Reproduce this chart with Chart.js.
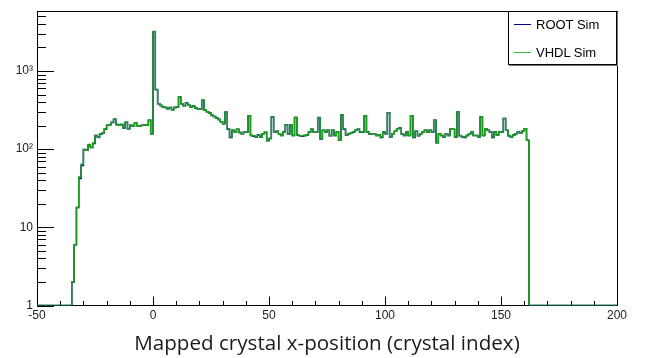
<!DOCTYPE html>
<html>
<head>
<meta charset="utf-8">
<script src="https://cdn.jsdelivr.net/npm/chart.js@4.4.1/dist/chart.umd.min.js"></script>
<style>
  body { margin: 0; background: #fff; }
  #wrap { position: relative; width: 645px; height: 358px; }
  #legend {
    position: absolute; left: 508px; top: 11px; width: 109px; height: 54px;
    box-sizing: border-box; border: 1px solid #000; box-shadow: 1px 1px 0 #777;
    background: #fff; font-family: "Liberation Sans", Arial, sans-serif; font-size: 13px; color: #000;
  }
  #legend .txt { position: absolute; left: 27px; height: 16px; line-height: 16px; white-space: nowrap; }
  #legend .ln { position: absolute; left: 5px; width: 17px; height: 0; border-top: 1px solid; }
</style>
</head>
<body>
<div id="wrap">
  <canvas id="c" width="645" height="358"></canvas>
  <div id="legend">
    <div class="ln" style="top:12px;border-color:#000099"></div>
    <div class="txt" style="top:5px">ROOT Sim</div>
    <div class="ln" style="top:40px;border-color:#33bb33"></div>
    <div class="txt" style="top:33px">VHDL Sim</div>
  </div>
</div>
<script>
// histogram: 1-unit bins, first bin starts at -35
var firstBin = -35;
var xMin = -50, xMax = 200;
var yMin = 1, yMax = 5820;
var yTicks = [1, 10, 100, 1000];
var yTickLabels = ["1", "10", "10\u00B2", "10\u00B3"];
var xTitle = "Mapped crystal x-position (crystal index)";

var rootSim = [
  2, 6, 18, 42, 62, 98, 97, 112, 105, 118,
  150, 143, 155, 160, 180, 202, 205, 220, 241, 207,
  202, 207, 187, 220, 183, 202, 196, 218, 200, 196,
  202, 205, 202, 234, 158,
  3180, 580, 382, 361, 345, 340, 330, 340, 320, 340,
  347, 465, 382, 360, 390, 364, 347, 357, 336, 330,
  325, 421, 314, 300, 290, 272, 262, 250, 240, 225,
  212, 297, 180, 141, 175, 166, 180, 163, 158, 166,
  166, 267, 150, 146, 143, 152, 143, 158, 163, 128,
  137, 258, 166, 169, 158, 150, 166, 206, 156, 206,
  150, 255, 152, 148, 146, 150, 152, 166, 180, 166,
  166, 253, 135, 175, 166, 175, 148, 175, 150, 166,
  130, 275, 180, 152, 158, 162, 166, 175, 180, 166,
  166, 265, 166, 156, 158, 158, 150, 152, 141, 166,
  158, 292, 143, 158, 169, 183, 187, 156, 150, 166,
  150, 268, 141, 169, 148, 158, 166, 175, 166, 175,
  166, 234, 121, 156, 150, 143, 158, 150, 183, 180,
  143, 299, 148, 143, 141, 150, 158, 166, 150, 150,
  143, 258, 150, 183, 175, 166, 141, 166, 152, 166,
  166, 246, 175, 148, 143, 152, 158, 166, 160, 170,
  183, 130
];

var vhdlSim = [
  2, 6, 18, 44, 64, 100, 97, 115, 105, 120,
  150, 141, 158, 160, 183, 202, 207, 222, 241, 207,
  202, 207, 187, 222, 183, 202, 196, 218, 200, 196,
  202, 205, 202, 234, 158,
  3200, 577, 382, 361, 345, 340, 330, 340, 320, 340,
  347, 465, 382, 360, 390, 364, 347, 357, 336, 330,
  325, 421, 314, 300, 290, 270, 262, 250, 240, 225,
  212, 299, 183, 143, 175, 166, 180, 163, 158, 166,
  166, 267, 150, 148, 143, 152, 143, 158, 166, 130,
  137, 258, 166, 169, 158, 150, 166, 206, 158, 206,
  150, 255, 152, 148, 148, 150, 152, 166, 180, 166,
  166, 255, 137, 175, 166, 175, 150, 175, 150, 166,
  130, 275, 183, 152, 158, 162, 166, 175, 180, 166,
  166, 265, 166, 158, 158, 158, 150, 152, 143, 166,
  158, 292, 143, 158, 169, 183, 187, 158, 150, 166,
  150, 268, 143, 169, 150, 158, 166, 175, 166, 175,
  166, 234, 121, 158, 150, 143, 158, 150, 183, 180,
  143, 299, 150, 143, 143, 150, 158, 166, 150, 150,
  143, 258, 150, 183, 175, 166, 143, 166, 152, 166,
  166, 246, 175, 150, 143, 152, 158, 166, 160, 170,
  183, 130
];

// empty bins sit on the axis floor
function histPoints(counts) {
  var pts = [{x: xMin, y: yMin}];
  counts.forEach(function (c, i) {
    pts.push({x: firstBin + i, y: c});
  });
  pts.push({x: firstBin + counts.length, y: yMin});
  pts.push({x: xMax, y: yMin});
  return pts;
}

// ROOT style frame with ticks pointing inwards
var frameTicks = {
  id: "frameTicks",
  beforeDatasetsDraw: function (chart) {
    var ctx = chart.ctx, a = chart.chartArea, x = chart.scales.x, y = chart.scales.y;
    ctx.save();
    ctx.strokeStyle = "#000";
    ctx.lineWidth = 1;
    ctx.strokeRect(Math.round(a.left) + 0.5, Math.round(a.top) + 0.5,
      Math.round(a.right - a.left), Math.round(a.bottom - a.top));
    ctx.beginPath();
    for (var v = xMin; v <= xMax; v += 10) {
      var px = Math.round(x.getPixelForValue(v)) + 0.5;
      var len = (v % 50 === 0) ? 9 : 4.5;
      ctx.moveTo(px, a.bottom);
      ctx.lineTo(px, a.bottom - len);
    }
    for (var d = 1; d < yMax; d *= 10) {
      for (var m = 1; m <= 9; m++) {
        var val = d * m;
        if (val > yMax) break;
        var py = Math.round(y.getPixelForValue(val)) + 0.5;
        ctx.moveTo(a.left, py);
        ctx.lineTo(a.left + (m === 1 ? 17 : 9), py);
      }
    }
    ctx.stroke();
    ctx.restore();
  }
};

var tickFont = {family: "'Liberation Sans', Arial, sans-serif", size: 12};

new Chart(document.getElementById("c"), {
  type: "line",
  data: {
    datasets: [
      {label: "ROOT Sim", data: histPoints(rootSim), borderColor: "#000099", borderWidth: 1.5,
       stepped: "before", pointRadius: 0, fill: false, order: 2},
      {label: "VHDL Sim", data: histPoints(vhdlSim), borderColor: "#1e9e1e", borderWidth: 1.5,
       stepped: "before", pointRadius: 0, fill: false, order: 1}
    ]
  },
  options: {
    responsive: false,
    animation: false,
    devicePixelRatio: 1,
    layout: {padding: {top: 10.5, right: 28, bottom: 0, left: 0}},
    plugins: {legend: {display: false}, tooltip: {enabled: false}},
    scales: {
      x: {
        type: "linear", min: xMin, max: xMax,
        ticks: {stepSize: 50, font: tickFont, color: "#222", padding: 3, maxRotation: 0},
        grid: {display: false, drawTicks: false},
        border: {display: false},
        title: {display: true, text: xTitle, color: "#1a1a1a",
                font: {family: "'Open Sans', sans-serif", size: 20.6}, padding: {top: 0, bottom: 2}},
        afterFit: function (s) { s.height = 52.5; }
      },
      y: {
        type: "logarithmic", min: yMin, max: yMax,
        afterBuildTicks: function (s) { s.ticks = yTicks.map(function (v) { return {value: v}; }); },
        ticks: {font: tickFont, color: "#222", padding: 4,
                callback: function (v, i) { return yTickLabels[i]; }},
        grid: {display: false, drawTicks: false},
        border: {display: false},
        afterFit: function (s) { s.width = 37; }
      }
    }
  },
  plugins: [frameTicks]
});
</script>
</body>
</html>
